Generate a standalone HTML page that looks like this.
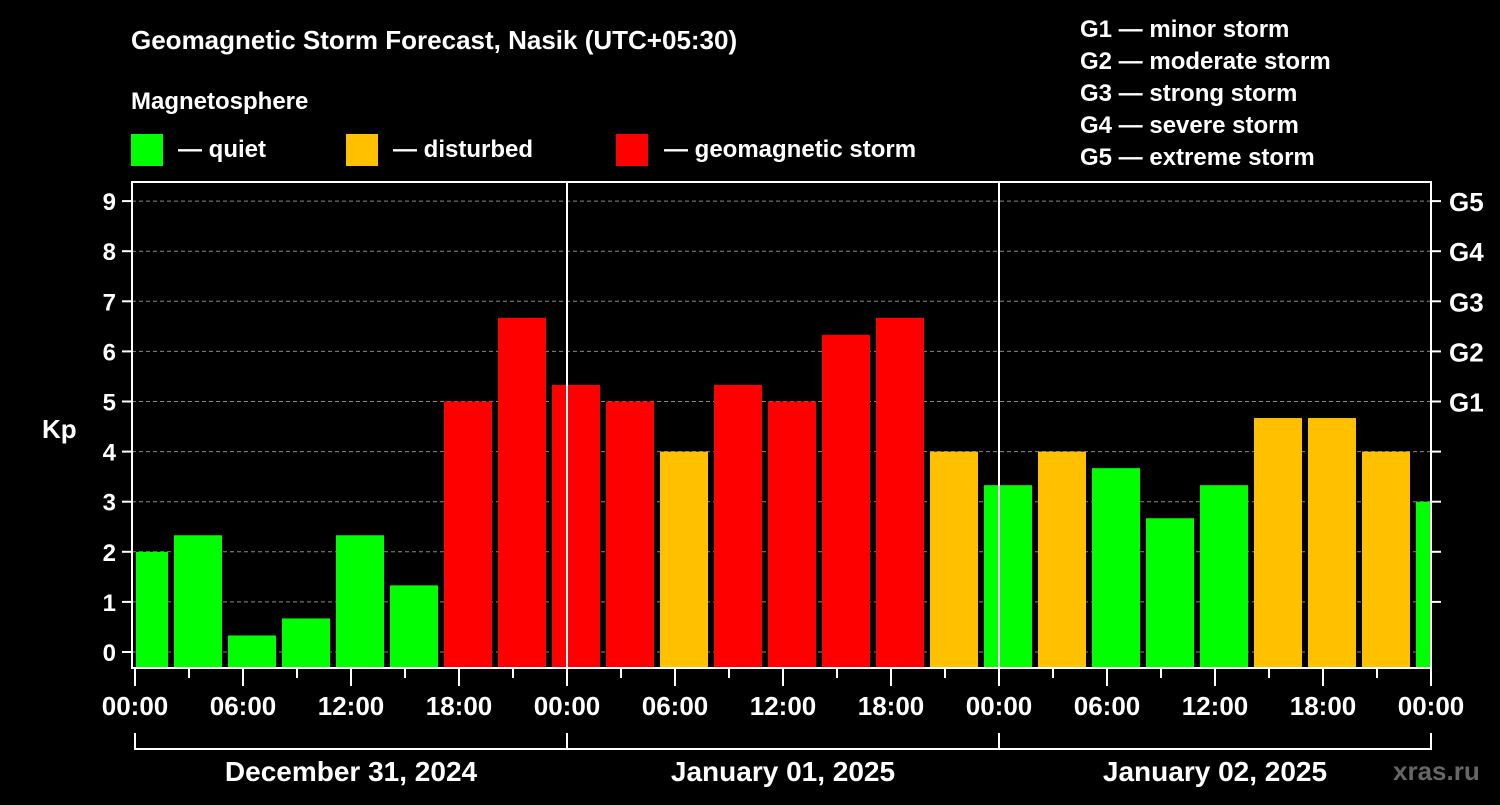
<!DOCTYPE html>
<html><head><meta charset="utf-8"><style>
html,body{margin:0;background:#000;}
svg text{font-family:"Liberation Sans",sans-serif;font-weight:bold;fill:#fff;}
</style></head><body>
<svg width="1500" height="800" xmlns="http://www.w3.org/2000/svg">
<text x="131" y="49" font-size="26">Geomagnetic Storm Forecast, Nasik (UTC+05:30)</text>
<text x="131" y="109" font-size="24">Magnetosphere</text>
<rect x="131" y="134" width="32" height="32" fill="#00ff00"/>
<text x="178" y="157" font-size="24">— quiet</text>
<rect x="346" y="134" width="32" height="32" fill="#ffc000"/>
<text x="393" y="157" font-size="24">— disturbed</text>
<rect x="616" y="134" width="32" height="32" fill="#ff0000"/>
<text x="664" y="157" font-size="24">— geomagnetic storm</text>
<g font-size="24">
<text x="1080" y="37">G1 — minor storm</text>
<text x="1080" y="69">G2 — moderate storm</text>
<text x="1080" y="101">G3 — strong storm</text>
<text x="1080" y="133">G4 — severe storm</text>
<text x="1080" y="165">G5 — extreme storm</text>
</g>
<g id="plot"></g>
<text x="42" y="438" font-size="26">Kp</text>
<text x="1393" y="780" font-size="26" fill="#555" style="fill:#666">xras.ru</text>
</svg>
<script>
const kpValues=[2,2.33,0.33,0.67,2.33,1.33,5,6.67,5.33,5,4,5.33,5,6.33,6.67,4,3.33,4,3.67,2.67,3.33,4.67,4.67,4,3];
const yTicks=[0,1,2,3,4,5,6,7,8,9];
const gLabels=["","","","","","G1","G2","G3","G4","G5"];
const xTickLabels=["00:00","06:00","12:00","18:00","00:00","06:00","12:00","18:00","00:00","06:00","12:00","18:00","00:00"];
const dayLabels=["December 31, 2024","January 01, 2025","January 02, 2025"];
const NS="http://www.w3.org/2000/svg";
const g=document.getElementById('plot');
const L=132,R=1431,T=182,B=668,X0=135,PXH=18;
const y=v=>652-v*50.1;
const x=h=>X0+h*PXH;
function mk(t,a){const e=document.createElementNS(NS,t);for(const k in a)e.setAttribute(k,a[k]);g.appendChild(e);return e;}
yTicks.forEach(v=>{
 const l=mk('line',{x1:L,x2:R,y1:y(v),y2:y(v),stroke:'#888','stroke-dasharray':'4,3','stroke-width':1});
 
 
 mk('line',{x1:L-10,x2:L,y1:y(v),y2:y(v),stroke:'#fff','stroke-width':2});
 const t=mk('text',{x:L-16,y:y(v)+9,'font-size':24,'text-anchor':'end'});t.textContent=v;
 
 
 if(v>0)mk('line',{x1:R,x2:R+10,y1:y(v),y2:y(v),stroke:'#fff','stroke-width':2});
 if(gLabels[v]){const t2=mk('text',{x:R+18,y:y(v)+10,'font-size':26});t2.textContent=gLabels[v];
 
 }
});
kpValues.forEach((v,i)=>{
 const c=x(i*3+0.5);let x1=Math.max(c-24,L+4),x2=Math.min(c+24,R-1);
 const col=v>=5?'#ff0000':(v>=4?'#ffc000':'#00ff00');
 const r=mk('rect',{x:x1,y:y(v),width:x2-x1,height:B-y(v),fill:col});
 
 
});
[24,48].forEach(h=>{const l=mk('line',{x1:x(h),x2:x(h),y1:T,y2:B,stroke:'#fff','stroke-width':2});
 
 });
const f=mk('rect',{x:L,y:T,width:R-L,height:B-T,fill:'none',stroke:'#fff','stroke-width':2});


for(let h=0;h<=72;h+=3){mk('line',{x1:x(h),x2:x(h),y1:B,y2:B+(h%6==0?18:10),stroke:'#fff','stroke-width':2});}
xTickLabels.forEach((s,i)=>{const t=mk('text',{x:x(i*6),y:715,'font-size':26,'text-anchor':'middle'});t.textContent=s;
 
 });
mk('line',{x1:x(0),x2:x(72),y1:749,y2:749,stroke:'#fff','stroke-width':2});
[0,24,48,72].forEach(h=>mk('line',{x1:x(h),x2:x(h),y1:733,y2:750,stroke:'#fff','stroke-width':2}));
dayLabels.forEach((s,i)=>{const t=mk('text',{x:x(i*24+12),y:781,'font-size':28,'text-anchor':'middle'});t.textContent=s;
 
 });
</script>
</body></html>
